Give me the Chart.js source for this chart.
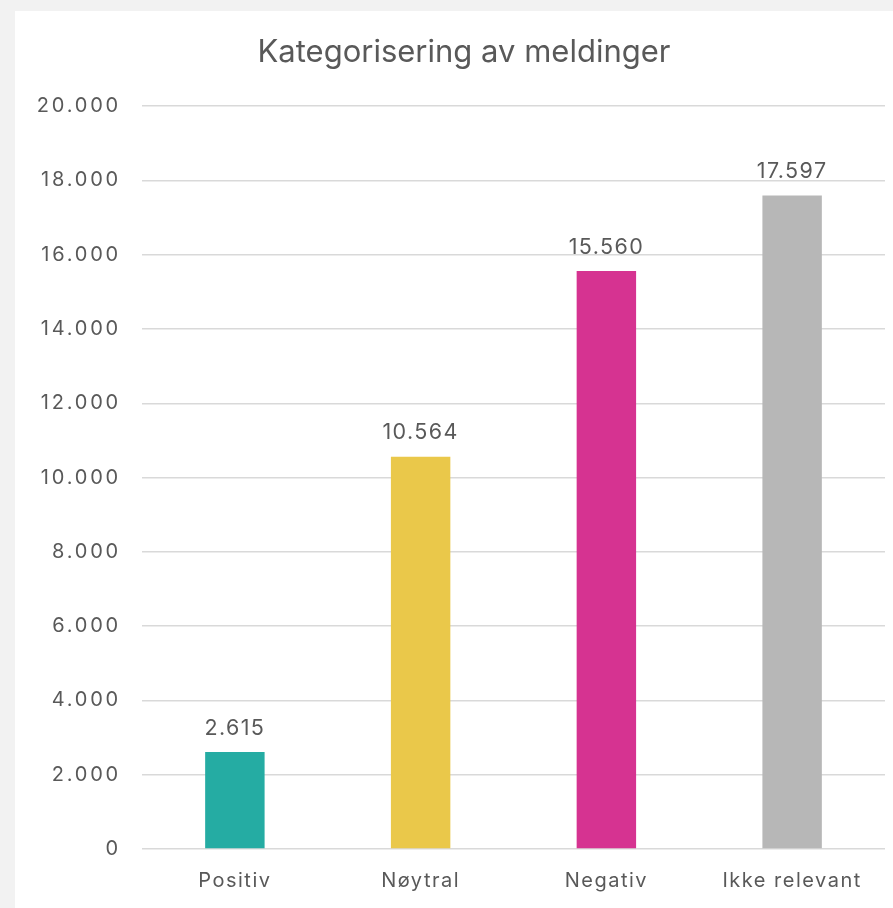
<!DOCTYPE html>
<html>
<head>
<meta charset="utf-8">
<script src="https://cdn.jsdelivr.net/npm/chart.js@4"></script>
<style>
  html, body { margin: 0; padding: 0; background: #f2f2f2; overflow: hidden; }
  #card { position: absolute; left: 15px; top: 11px; width: 878px; height: 897px; background: #fff; }
</style>
</head>
<body>
<div id="card"><canvas id="myChart" width="878" height="897"></canvas></div>
<script>
var categories = ["Positiv", "Nøytral", "Negativ", "Ikke relevant"];
var counts = [2615, 10564, 15560, 17597];
var barColors = ["#25ACA3", "#EAC84A", "#D63391", "#B7B7B7"];
var fontFamily = "Inter, 'Open Sans', sans-serif";

function fmt(n) {
    return n.toString().replace(/\B(?=(\d{3})+(?!\d))/g, ".");
}

// the original font is wider, so space the letters a bit
function spaced(proto, spacing) {
    if (!proto) return;
    var orig = proto.drawLabels;
    proto.drawLabels = function (area) {
        this.ctx.save();
        this.ctx.letterSpacing = spacing;
        orig.call(this, area);
        this.ctx.restore();
    };
}
if (Chart.LinearScale) {
    spaced(Chart.LinearScale.prototype, "2.8px");
    // let the y labels run into the left padding
    Chart.LinearScale.prototype._computeLabelArea = function () { return undefined; };
}
if (Chart.CategoryScale) spaced(Chart.CategoryScale.prototype, "1.5px");

// values above the bars
var valueLabels = {
    id: "valueLabels",
    afterDatasetsDraw: function (chart) {
        var ctx = chart.ctx;
        var meta = chart.getDatasetMeta(0);
        ctx.save();
        ctx.fillStyle = "#595959";
        ctx.font = "21.5px " + fontFamily;
        ctx.letterSpacing = "1.4px";
        ctx.textAlign = "center";
        ctx.textBaseline = "bottom";
        meta.data.forEach(function (bar, i) {
            ctx.fillText(fmt(counts[i]), bar.x, bar.y - 13);
        });
        ctx.restore();
    }
};

new Chart("myChart", {
    type: "bar",
    data: {
        labels: categories,
        datasets: [{
            data: counts,
            backgroundColor: barColors,
            barPercentage: 0.32,
            categoryPercentage: 1
        }]
    },
    plugins: [valueLabels],
    options: {
        responsive: false,
        animation: false,
        layout: { padding: { left: 28, right: 8, top: 0, bottom: 0 } },
        plugins: {
            legend: { display: false },
            tooltip: { enabled: false },
            title: {
                display: true,
                text: "Kategorisering av meldinger",
                color: "#595959",
                font: { family: fontFamily, size: 31, weight: "normal" },
                padding: { top: 23, bottom: 35 }
            }
        },
        scales: {
            y: {
                min: 0,
                max: 20000,
                ticks: {
                    stepSize: 2000,
                    color: "#595959",
                    font: { family: fontFamily, size: 20 },
                    padding: 21,
                    callback: function (v) { return fmt(v); }
                },
                grid: { color: "#d9d9d9", lineWidth: 1.5, drawTicks: false },
                border: { display: false },
                afterFit: function (s) { s.width = 99; }
            },
            x: {
                ticks: {
                    color: "#595959",
                    font: { family: fontFamily, size: 20 },
                    padding: 12
                },
                grid: { display: false },
                border: { display: false },
                afterFit: function (s) { s.height = 59; }
            }
        }
    }
});
</script>
</body>
</html>
